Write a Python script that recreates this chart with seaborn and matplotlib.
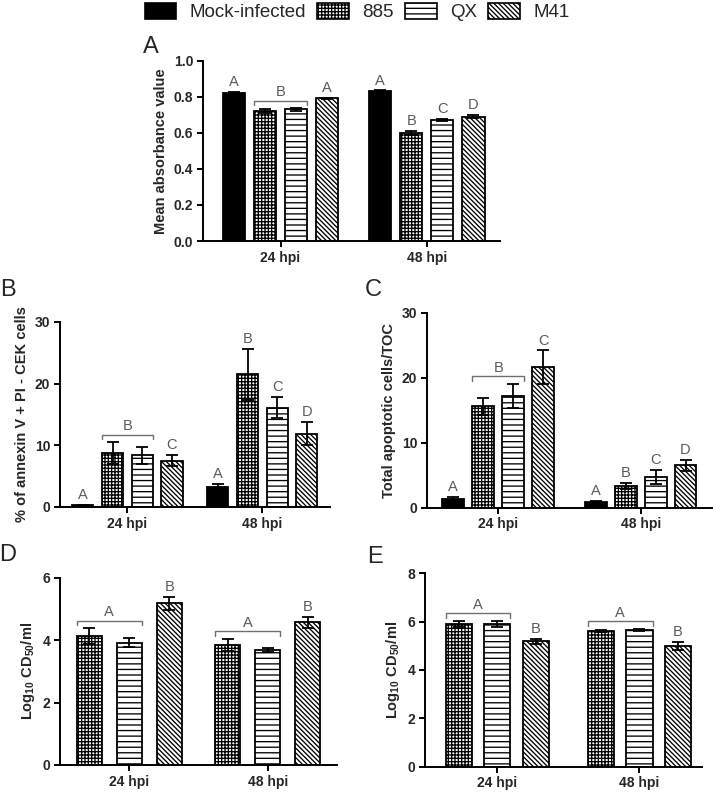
import matplotlib
matplotlib.use("Agg")
import matplotlib.pyplot as plt
from matplotlib.patches import Patch
import seaborn as sns
import pandas as pd
import numpy as np

sns.set_style("ticks")
plt.rcParams["font.family"] = ["Liberation Sans", "DejaVu Sans"]
plt.rcParams["mathtext.fontset"] = "custom"
plt.rcParams["mathtext.rm"] = "Liberation Sans:bold"
plt.rcParams["mathtext.bf"] = "Liberation Sans:bold"
plt.rcParams["hatch.linewidth"] = 0.95

# =-= Data =-= #
TIMES = ["24 hpi", "48 hpi"]
GROUPS = ["Mock-infected", "885", "QX", "M41"]
VIRUSES = ["885", "QX", "M41"]

# A: mean absorbance (rows = group, cols = time)
a_mean = [[0.82, 0.83], [0.72, 0.60], [0.73, 0.67], [0.79, 0.69]]
a_err = [[0.005, 0.005], [0.01, 0.012], [0.008, 0.005], [0.005, 0.01]]
a_letters = [(0, ["Mock-infected"], "A"), (0, ["885", "QX"], "B"), (0, ["M41"], "A"),
             (1, ["Mock-infected"], "A"), (1, ["885"], "B"), (1, ["QX"], "C"), (1, ["M41"], "D")]

# B: % of annexin V+ PI- CEK cells
b_mean = [[0.3, 3.3], [8.7, 21.5], [8.4, 16.1], [7.5, 11.9]]
b_err = [[0.05, 0.5], [1.8, 4.1], [1.4, 1.7], [0.9, 1.9]]
b_letters = [(0, ["Mock-infected"], "A"), (0, ["885", "QX"], "B"), (0, ["M41"], "C"),
             (1, ["Mock-infected"], "A"), (1, ["885"], "B"), (1, ["QX"], "C"), (1, ["M41"], "D")]

# C: total apoptotic cells/TOC
c_mean = [[1.3, 0.9], [15.6, 3.3], [17.2, 4.7], [21.6, 6.5]]
c_err = [[0.4, 0.2], [1.3, 0.5], [1.8, 1.1], [2.6, 0.8]]
c_letters = [(0, ["Mock-infected"], "A"), (0, ["885", "QX"], "B"), (0, ["M41"], "C"),
             (1, ["Mock-infected"], "A"), (1, ["885"], "B"), (1, ["QX"], "C"), (1, ["M41"], "D")]

# D: Log10 CD50/ml
d_mean = [[4.13, 3.85], [3.92, 3.69], [5.18, 4.57]]
d_err = [[0.25, 0.2], [0.15, 0.07], [0.2, 0.17]]
d_letters = [(0, ["885", "QX"], "A"), (0, ["M41"], "B"),
             (1, ["885", "QX"], "A"), (1, ["M41"], "B")]

# E: Log10 CD50/ml
e_mean = [[5.9, 5.62], [5.9, 5.65], [5.19, 5.0]]
e_err = [[0.14, 0.05], [0.14, 0.04], [0.11, 0.16]]
e_letters = [(0, ["885", "QX"], "A"), (0, ["M41"], "B"),
             (1, ["885", "QX"], "A"), (1, ["M41"], "B")]

FACE = {"Mock-infected": "black", "885": "white", "QX": "white", "M41": "white"}
HATCH = {"Mock-infected": None, "885": "+++++", "QX": "---", "M41": "\\\\\\\\\\\\\\"}
LETTER_COLOR = "#5a5a5a"


def panel(ax, mean, err, groups, letters, width, gap, ylim, yticks, ylabel, fmt, xlim):
    rows = []
    for g, m_row, e_row in zip(groups, mean, err):
        for t, m, e in zip(TIMES, m_row, e_row):
            rows.append({"time": t, "group": g, "value": m, "err": e})
    df = pd.DataFrame(rows)

    sns.barplot(data=df, x="time", y="value", hue="group", order=TIMES, hue_order=groups,
                palette=FACE, saturation=1, width=width, gap=gap, errorbar=None,
                edgecolor="black", linewidth=1.3, legend=False, ax=ax)

    centers = {}
    tops = {}
    for cont, g in zip(ax.containers, groups):
        sub = df[df["group"] == g]
        xs = []
        for bar in cont:
            bar.set_hatch(HATCH[g])
            bar.set_facecolor(FACE[g])
            bar.set_edgecolor("black")
            xs.append(bar.get_x() + bar.get_width() / 2)
        ax.errorbar(xs, sub["value"].values, yerr=sub["err"].values, fmt="none",
                    ecolor="black", elinewidth=1.3, capsize=4, capthick=1.3, zorder=5)
        bw = cont[0].get_width()
        for i, x in enumerate(xs):
            centers[(i, g)] = (x, bw)
            tops[(i, g)] = sub["value"].values[i] + sub["err"].values[i]

    span = ylim[1] - ylim[0]
    for ti, gs, letter in letters:
        if len(gs) == 1:
            x, _ = centers[(ti, gs[0])]
            ax.annotate(letter, (x, tops[(ti, gs[0])]), xytext=(0, 2), textcoords="offset points",
                        ha="center", va="bottom", fontsize=10.5, color=LETTER_COLOR)
        else:
            x0, w0 = centers[(ti, gs[0])]
            x1, w1 = centers[(ti, gs[-1])]
            left = x0 - w0 / 2
            right = x1 + w1 / 2
            y = max(tops[(ti, g)] for g in gs) + 0.04 * span
            ax.plot([left, left, right, right], [y - 0.025 * span, y, y, y - 0.025 * span],
                    color="#707070", lw=1.0, clip_on=False)
            ax.annotate(letter, ((left + right) / 2, y), xytext=(0, 1), textcoords="offset points",
                        ha="center", va="bottom", fontsize=10.5, color=LETTER_COLOR)

    ax.set_ylim(*ylim)
    ax.set_xlim(*xlim)
    ax.set_yticks(yticks)
    ax.set_yticklabels([fmt.format(v) for v in yticks], fontweight="bold", fontsize=10)
    ax.set_xticks([0, 1])
    ax.set_xticklabels(TIMES, fontweight="bold", fontsize=10)
    ax.set_xlabel("")
    ax.set_ylabel(ylabel, fontweight="bold", fontsize=10.5)
    sns.despine(ax=ax)
    for s in ["left", "bottom"]:
        ax.spines[s].set_linewidth(1.4)
        ax.spines[s].set_color("black")
    ax.tick_params(axis="both", direction="out", length=4, width=1.4, color="black", pad=3)


fig = plt.figure(figsize=(7.14, 7.97), dpi=100)

ax_a = fig.add_axes([0.2843, 0.6976, 0.416, 0.2264])
ax_b = fig.add_axes([0.084, 0.3639, 0.378, 0.2321])
ax_c = fig.add_axes([0.598, 0.363, 0.399, 0.2447])
ax_d = fig.add_axes([0.084, 0.0402, 0.388, 0.235])
ax_e = fig.add_axes([0.5952, 0.038, 0.388, 0.2427])

panel(ax_a, a_mean, a_err, GROUPS, a_letters, 0.85, 0.29, (0, 1.0), [0, 0.2, 0.4, 0.6, 0.8, 1.0],
      "Mean absorbance value", "{:.1f}", (-0.53, 1.5))
panel(ax_b, b_mean, b_err, GROUPS, b_letters, 0.88, 0.29, (0, 30), [0, 10, 20, 30],
      "% of annexin V + PI - CEK cells", "{:.0f}", (-0.5, 1.5))
panel(ax_c, c_mean, c_err, GROUPS, c_letters, 0.84, 0.27, (0, 30), [0, 10, 20, 30],
      "Total apoptotic cells/TOC", "{:.0f}", (-0.5, 1.5))
panel(ax_d, d_mean, d_err, VIRUSES, d_letters, 0.87, 0.38, (0, 6), [0, 2, 4, 6],
      r"Log$_{10}$ CD$_{50}$/ml", "{:.0f}", (-0.5, 1.5))
panel(ax_e, e_mean, e_err, VIRUSES, e_letters, 0.81, 0.32, (0, 8), [0, 2, 4, 6, 8],
      r"Log$_{10}$ CD$_{50}$/ml", "{:.0f}", (-0.51, 1.44))

# panel letters
for label, x, y in [("A", 151, 47), ("B", 8, 290), ("C", 373, 290), ("D", 8, 555), ("E", 375, 557)]:
    fig.text(x / 714, 1 - y / 797, label, fontsize=17, ha="center", va="center")

handles = [Patch(facecolor=FACE[g], edgecolor="black", hatch=HATCH[g], linewidth=1.2, label=g)
           for g in GROUPS]
fig.legend(handles=handles, loc="center", bbox_to_anchor=(0.5, 1 - 12 / 797), ncol=4,
           frameon=False, fontsize=13.5, handlelength=1.7, handleheight=0.95,
           handletextpad=0.7, columnspacing=0.6, borderaxespad=0)

fig.savefig("out.png", dpi=100)
